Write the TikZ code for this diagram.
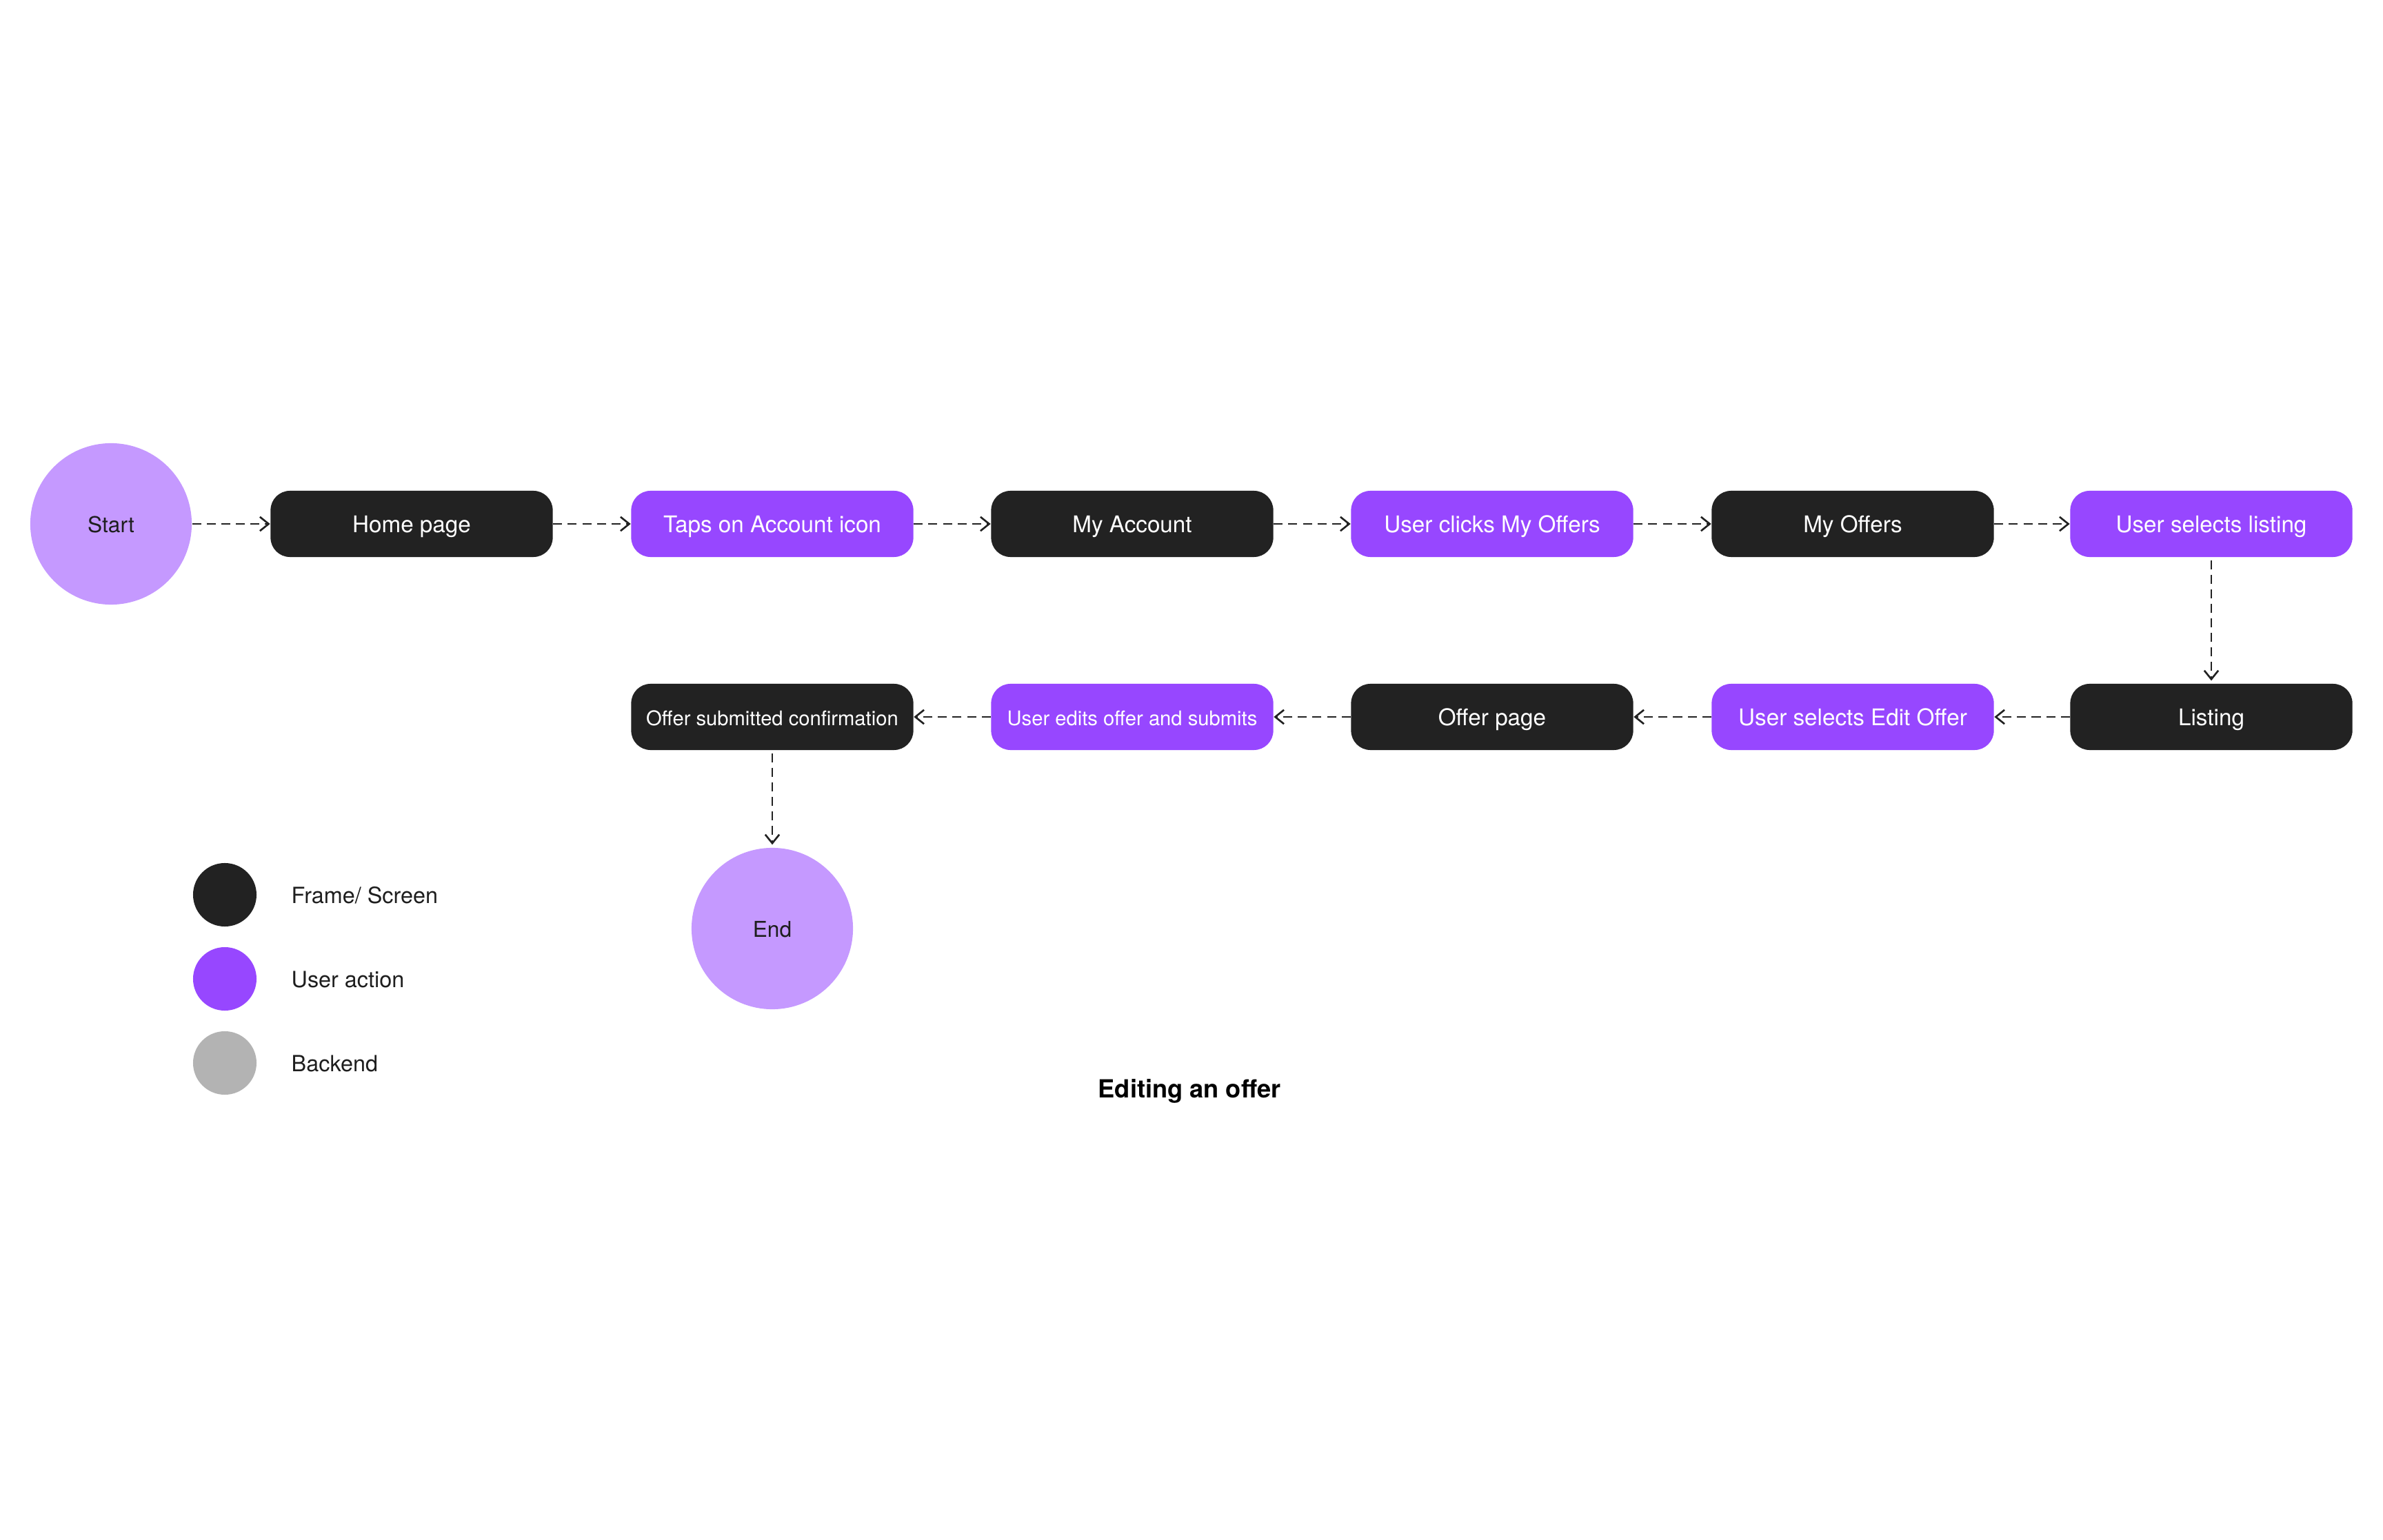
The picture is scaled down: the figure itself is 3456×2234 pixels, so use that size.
\documentclass[tikz,border=0pt]{standalone}
\usepackage{fontspec}
\setmainfont{TeX Gyre Heros}
\usetikzlibrary{arrows.meta}
\definecolor{frameblk}{HTML}{222222}
\definecolor{actpurple}{HTML}{9747FF}
\definecolor{lightpurple}{HTML}{C599FF}
\definecolor{backgray}{HTML}{B3B3B3}
\definecolor{txtdark}{HTML}{1E1E1E}
\tikzset{
  capcenter/.style={text height=0.718em, text depth=0pt},
  base/.style={rectangle, rounded corners=8pt, minimum width=4.09cm, minimum height=0.96cm, inner sep=0pt, text=white, font=\fontsize{9.45}{11}\selectfont, capcenter},
  framebox/.style={base, fill=frameblk},
  actbox/.style={base, fill=actpurple},
  smalltext/.style={font=\fontsize{8.3}{10}\selectfont},
  terminal/.style={circle, fill=lightpurple, minimum size=2.34cm, inner sep=0pt, text=txtdark, font=\fontsize{9}{11}\selectfont, capcenter},
  legdot/.style={circle, minimum size=0.92cm, inner sep=0pt},
  legtext/.style={anchor=west, text=txtdark, font=\fontsize{9.2}{11}\selectfont, inner sep=0pt, capcenter},
  flow/.style={draw=frameblk, line width=0.75pt, dash pattern=on 3.7pt off 2.3pt, -{Straight Barb[length=3.6pt,width=5.8pt,line width=0.75pt]}},
  vflow/.style={flow, shorten <=1.1pt, shorten >=1.1pt}
}
\begin{document}
\begin{tikzpicture}[x=0.01cm,y=-0.01cm]
\useasboundingbox (0,0) rectangle (3456,2234);
% nodes
\node[terminal] (start) at (161,760) {Start};
\node[framebox] (home) at (597,760) {Home page};
\node[actbox] (taps) at (1120,760) {Taps on Account icon};
\node[framebox] (acct) at (1642,760) {My Account};
\node[actbox] (clicks) at (2164,760) {User clicks My Offers};
\node[framebox] (offers) at (2687,760) {My Offers};
\node[actbox] (sellist) at (3207,760) {User selects listing};
\node[framebox] (listing) at (3207,1040) {Listing};
\node[actbox] (seledit) at (2687,1040) {User selects Edit Offer};
\node[framebox] (offerpg) at (2164,1040) {Offer page};
\node[actbox, smalltext] (edits) at (1642,1040) {User edits offer and submits};
\node[framebox, smalltext] (confirm) at (1120,1040) {Offer submitted confirmation};
\node[terminal] (end) at (1120,1347) {End};
% connectors
\draw[flow] (start.east) -- (home.west);
\draw[flow] (home) -- (taps);
\draw[flow] (taps) -- (acct);
\draw[flow] (acct) -- (clicks);
\draw[flow] (clicks) -- (offers);
\draw[flow] (offers) -- (sellist);
\draw[vflow] (sellist) -- (listing);
\draw[flow] (listing) -- (seledit);
\draw[flow] (seledit) -- (offerpg);
\draw[flow] (offerpg) -- (edits);
\draw[flow] (edits) -- (confirm);
\draw[vflow] (confirm) -- (end);
% legend
\node[legdot, fill=frameblk] (lg1) at (326,1298) {};
\node[legdot, fill=actpurple] (lg2) at (326,1420) {};
\node[legdot, fill=backgray] (lg3) at (326,1542) {};
\node[legtext] (lt1) at (422,1298) {Frame/ Screen};
\node[legtext] (lt2) at (422,1420) {User action};
\node[legtext] (lt3) at (422,1542) {Backend};
% title
\node[text=black, font=\fontsize{10.3}{12}\selectfont\bfseries, capcenter] (title) at (1725,1580) {Editing an offer};
\end{tikzpicture}
\end{document}
